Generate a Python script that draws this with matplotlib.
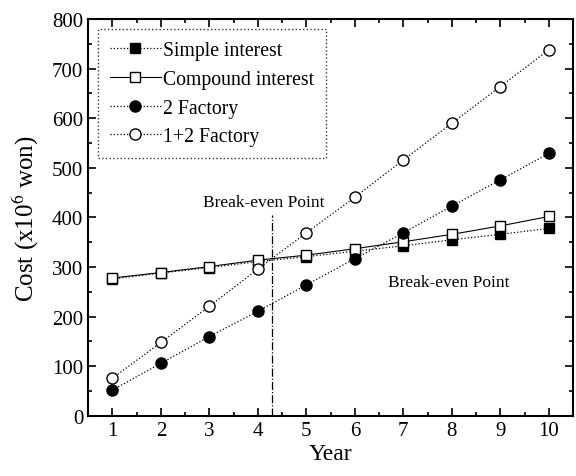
import matplotlib.pyplot as plt
from matplotlib.ticker import MultipleLocator

plt.rcParams['font.family'] = ['Liberation Serif', 'DejaVu Serif']
plt.rcParams['font.size'] = 13
plt.rcParams['mathtext.fontset'] = 'stix'

# Data
years = [1, 2, 3, 4, 5, 6, 7, 8, 9, 10]
simple_interest = [276, 288, 299, 311, 321, 332, 343, 355, 366, 378]
compound_interest = [278, 289, 301, 314, 324, 337, 351, 366, 383, 402]
factory_2 = [52, 106, 160, 211, 264, 317, 369, 423, 476, 529]
factory_12 = [76, 148, 221, 296, 369, 441, 516, 590, 664, 738]
break_even_year = 4.29

fig = plt.figure(figsize=(5.76, 4.77), dpi=100)
ax = fig.add_axes([0.153, 0.126, 0.842, 0.832])

ax.plot(years, simple_interest, ls=':', lw=0.9, color='black', marker='s',
        ms=7, mfc='black', mec='black', label='Simple interest')
ax.plot(years, compound_interest, ls='-', lw=0.8, color='black', marker='s',
        ms=7, mfc='white', mec='black', label='Compound interest')
ax.plot(years, factory_2, ls=':', lw=0.9, color='black', marker='o',
        ms=8, mfc='black', mec='black', label='2 Factory')
ax.plot(years, factory_12, ls=':', lw=0.9, color='black', marker='o',
        ms=8, mfc='white', mec='black', label='1+2 Factory')

ax.plot([break_even_year, break_even_year], [0, 405], ls='-.', lw=0.9, color='black')
ax.text(4.12, 431, 'Break-even Point', fontsize=12.5, ha='center', va='center')
ax.text(7.93, 270, 'Break-even Point', fontsize=12.5, ha='center', va='center')

ax.set_xlim(0.5, 10.5)
ax.set_ylim(0, 800)
ax.xaxis.set_major_locator(MultipleLocator(1))
ax.xaxis.set_minor_locator(MultipleLocator(0.5))
ax.yaxis.set_major_locator(MultipleLocator(100))
ax.yaxis.set_minor_locator(MultipleLocator(50))
ax.tick_params(which='both', direction='in', top=True, right=True, width=1.2)
ax.tick_params(which='major', length=6, labelsize=15)
ax.tick_params(which='minor', length=3)
for s in ax.spines.values():
    s.set_linewidth(1.5)

ax.set_xlabel('Year', fontsize=17, labelpad=2)
ax.set_ylabel('Cost (x10$^6$ won)', fontsize=18, labelpad=8)

leg = ax.legend(loc='upper left', fontsize=14.2, handlelength=2.6, handletextpad=0.1,
                borderpad=0.6, labelspacing=0.5, fancybox=False, borderaxespad=0,
                bbox_to_anchor=(0.02, 0.975))
leg.get_frame().set_edgecolor('black')
leg.get_frame().set_linestyle(':')
leg.get_frame().set_linewidth(1.0)

fig.savefig('out.png', dpi=100)
